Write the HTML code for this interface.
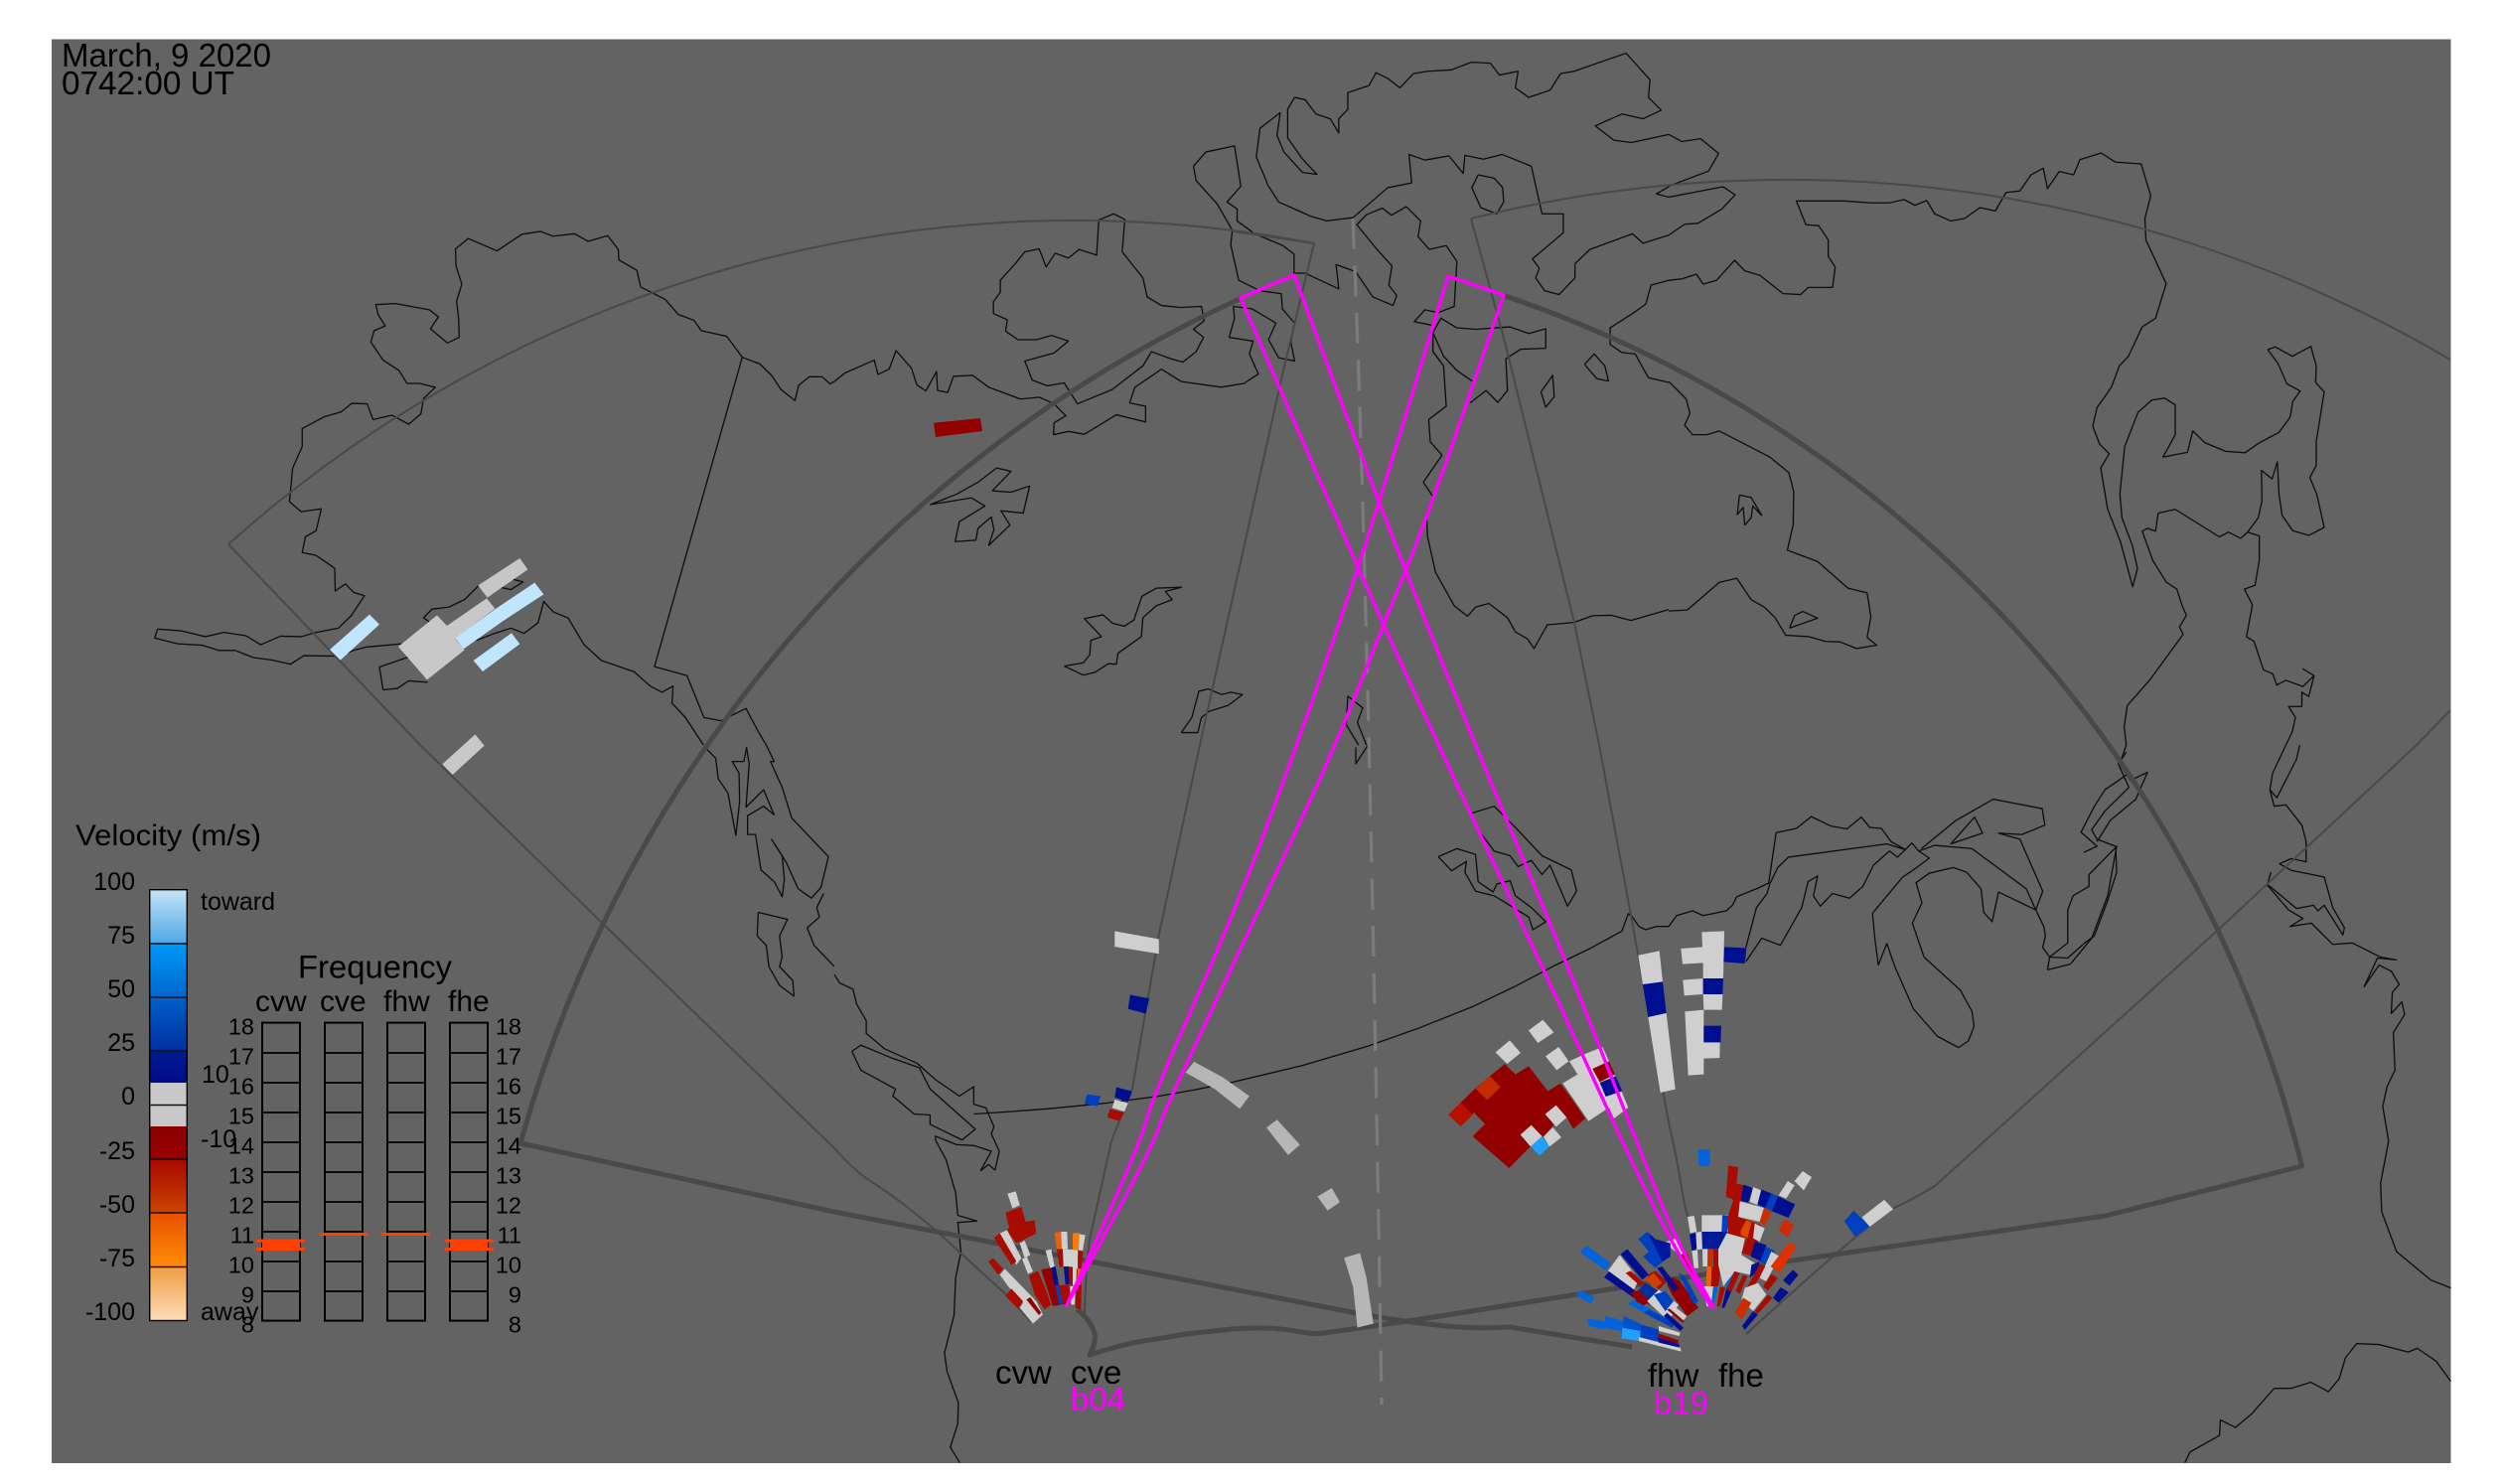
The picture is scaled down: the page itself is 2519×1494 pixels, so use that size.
<!DOCTYPE html>
<html><head><meta charset="utf-8"><title>March, 9 2020 0742:00 UT</title>
<style>
html,body{margin:0;padding:0;background:#fff}
svg{display:block}
text{font-family:"Liberation Sans",sans-serif;fill:#000}
.c polyline{fill:none;stroke:#0c0c0c;stroke-width:1.3;stroke-linejoin:round;vector-effect:non-scaling-stroke}
.t{fill:none;stroke:#494949;stroke-width:2;stroke-linejoin:round}
.k{fill:none;stroke:#494949;stroke-width:5;stroke-linejoin:round}
.g{fill:none;stroke:#ff00ff;stroke-width:3.4;stroke-linejoin:round}
.w{fill:#cfcfcf}.s{fill:#b6b6b6}.b{fill:#000f90}.m{fill:#0040c0}.l{fill:#0064dc}.h{fill:#20a0ff}.r{fill:#a80c00}.d{fill:#920000}.o{fill:#cc2c00}.e{fill:#e86010}.p{fill:#c0e6ff}
.f rect{fill:none;stroke:#000;stroke-width:2}
.n{font-size:25px;text-anchor:end}
.q{font-size:23.5px;text-anchor:end}
</style></head><body>
<svg xmlns="http://www.w3.org/2000/svg" width="2519" height="1494" viewBox="0 0 2519 1494">
<defs>
<linearGradient id="a1" x1="0" y1="0" x2="0" y2="1"><stop offset="0" stop-color="#c4e4f8"/><stop offset="1" stop-color="#4fa6e6"/></linearGradient>
<linearGradient id="a2" x1="0" y1="0" x2="0" y2="1"><stop offset="0" stop-color="#0098fa"/><stop offset="1" stop-color="#0066cc"/></linearGradient>
<linearGradient id="a3" x1="0" y1="0" x2="0" y2="1"><stop offset="0" stop-color="#0060c8"/><stop offset="1" stop-color="#0030a0"/></linearGradient>
<linearGradient id="a4" x1="0" y1="0" x2="0" y2="1"><stop offset="0" stop-color="#001c90"/><stop offset="1" stop-color="#000a88"/></linearGradient>
<linearGradient id="a5" x1="0" y1="0" x2="0" y2="1"><stop offset="0" stop-color="#8a0000"/><stop offset="1" stop-color="#990000"/></linearGradient>
<linearGradient id="a6" x1="0" y1="0" x2="0" y2="1"><stop offset="0" stop-color="#a80800"/><stop offset="1" stop-color="#cc4400"/></linearGradient>
<linearGradient id="a7" x1="0" y1="0" x2="0" y2="1"><stop offset="0" stop-color="#e85000"/><stop offset="1" stop-color="#ff8c08"/></linearGradient>
<linearGradient id="a8" x1="0" y1="0" x2="0" y2="1"><stop offset="0" stop-color="#f09c40"/><stop offset="1" stop-color="#fddcb8"/></linearGradient>
</defs>
<rect x="52" y="39.5" width="2415.5" height="1433.5" fill="#636363"/>

<!-- coast: top-left -->
<g class="c" transform="scale(.53571,.47831)">
<polyline points="296,1324 342,1328 386,1340 421,1331 462,1338 490,1357 527,1339 567,1340 590,1332 636,1322 660,1296 685,1254 665,1247 649,1229 630,1244 629,1196 594,1169 568,1163 574,1130 594,1117 604,1071 566,1077 544,1056 550,985 568,940 568,902 610,877 641,867 661,849 690,850 701,883 737,874 768,893 791,871 796,839 818,815 788,807 765,807 750,780 720,758 697,720 703,696 724,686 711,663 706,641 743,639 807,652 824,667 809,692 841,722 863,710 862,671 858,634 868,598 857,560 856,524 880,502 934,528 981,493 1016,487 1039,497 1080,492 1105,508 1142,496 1162,525 1163,547 1197,569 1204,604 1250,630 1275,662 1304,674 1318,696 1366,708 1395,752 1428,766 1450,790 1468,820 1494,843 1501,811 1521,793 1545,793 1560,808 1568,803"/>
<polyline points="296,1324 291,1343 334,1355 380,1358 411,1369 442,1369 476,1384 510,1389 546,1398 571,1380 640,1381 664,1369 688,1362 755,1355"/>
<polyline points="770,1382 713,1404 720,1452 747,1449 768,1433 804,1436"/>
<polyline points="808,1310 796,1300 812,1282 843,1278 873,1262 900,1232"/>
<polyline points="940,1236 960,1241 983,1225 960,1218"/>
<polyline points="895,1348 925,1335 960,1322 985,1333 1011,1311 1022,1266 1040,1288 1068,1301 1097,1356 1130,1390 1192,1414 1222,1444 1244,1457 1265,1444 1263,1480 1288,1510 1322,1568"/>
<polyline points="1322,1510 1355,1517 1402,1491 1425,1540 1440,1568"/>
<polyline points="1395,752 1230,1403 1291,1422 1323,1510"/>
</g>
<!-- coast: top-middle -->
<g class="c" transform="translate(840,0) scale(.53571,.47831)">
<polyline points="0,803 20,785 75,758 82,788 103,777 116,738 145,775 155,810 172,823 192,782 194,822 213,826 224,792 260,790 290,815 350,840 385,836 413,850 435,875 413,890 412,915 440,908 470,914 530,873 585,888 585,855 555,848 565,815 615,777 652,803 727,815 770,807 797,787 780,745 787,718 742,710 752,670 750,645 785,650 830,680 816,715 835,753 865,760 858,720 865,680 842,650 840,618 800,612 760,590 745,515 748,485 720,430 680,380 675,350 698,320 752,307 764,392 738,425 757,440 757,465 790,492 843,517 864,535 864,575 885,575 948,608 943,557 980,572 1012,625 1050,643 1057,622 1042,600 1048,560 1020,525 982,473 1000,452 1030,438 1047,453 1075,435 1102,465 1097,498 1118,525 1150,517 1170,550 1165,645 1135,658 1110,652 1090,677 1125,685 1125,740 1145,770 1150,855 1117,883 1120,930 1142,958 1107,1015 1125,1045 1113,1080 1115,1130 1130,1205 1165,1275 1190,1297 1205,1278 1230,1270 1265,1300 1280,1330 1303,1345 1315,1365 1340,1315 1390,1310 1425,1296 1460,1295 1497,1306 1568,1283"/>
<polyline points="525,450 497,463 493,537 460,525 440,543 415,533 398,562 385,524 358,530 340,555 312,590 312,615 299,635 299,660 325,673 322,697 345,715 380,715 408,706 440,718 413,743 358,760 372,800 400,812 432,806 457,850 522,820 580,770 596,740 632,755 655,762 680,740 694,710 675,693 695,675 690,645 650,647 615,643 588,625 580,585 541,530 546,462 525,450"/>
<polyline points="865,205 885,210 905,240 932,250 948,280 948,250 965,230 965,195 1005,180 1018,153 1040,165 1063,185 1088,155 1115,150 1160,147 1197,131 1233,133 1250,158 1285,150 1280,185 1305,205 1345,190 1365,155 1390,150 1488,112 1533,168 1530,205 1554,232 1520,250 1480,240 1430,265 1465,295 1498,300 1568,283"/>
<polyline points="865,205 852,230 852,290 880,335 907,367 880,363 845,320 832,285 838,237 800,270 793,330 815,390 835,425 895,455 925,465 975,458 1040,395 1085,385 1080,325 1110,337 1155,328 1182,365 1185,327 1220,335 1255,325 1310,350 1330,450 1370,450 1370,490 1312,545 1325,565 1318,585 1335,612 1362,620 1392,585 1392,555 1420,525 1500,492 1520,512 1568,495"/>
<polyline points="1210,368 1198,395 1215,437 1245,450 1258,425 1256,395 1240,375 1210,368"/>
<polyline points="1568,590 1535,600 1525,640 1500,660 1458,690 1458,725 1480,742 1505,745 1530,795 1568,805"/>
<polyline points="1410,767 1428,745 1448,770 1455,802 1433,797 1410,767"/>
<polyline points="1328,825 1350,790 1353,835 1337,857 1328,825"/>
<polyline points="1200,803 1170,780 1145,750 1125,700 1140,670 1170,690 1205,693 1270,688 1305,702 1337,692 1337,733 1290,735 1262,755 1265,822 1247,847 1225,822 1195,848"/>
<polyline points="1568,393 1545,408 1568,415"/>
<polyline points="180,1062 230,1040 270,1015 305,985 332,992 297,1033 332,1036 367,1023 355,1080 313,1075 330,1105 290,1148 300,1115 295,1088 270,1112 266,1137 227,1140 235,1098 283,1065 258,1048 180,1062"/>
<polyline points="432,1402 468,1395 480,1378 482,1348 502,1340 470,1302 505,1294 523,1312 545,1318 563,1305 578,1255 605,1238 652,1236 622,1245 635,1262 605,1275 580,1300 577,1340 533,1375 530,1398 515,1397 490,1415 468,1421 432,1402"/>
<polyline points="652,1542 672,1510 685,1455 703,1450 728,1462 745,1457 767,1462 740,1485 705,1497 690,1510 683,1542 652,1542"/>
<polyline points="965,1465 993,1490 983,1520 1000,1568"/>
<polyline points="965,1465 962,1525 985,1568"/>
</g>
<!-- coast: top-right -->
<g class="c" transform="translate(1680,0) scale(.53571,.47831)">
<polyline points="0,283 25,298 60,292 94,323 75,360 0,392"/>
<polyline points="0,415 102,393 125,410 100,440 55,470 30,472 0,495"/>
<polyline points="0,590 25,587 52,577 65,598 90,590 124,548 143,570 172,580 215,618 248,620 262,605 308,605 313,562 300,540 300,505 282,475 258,473 240,423 330,423 380,427 415,427 442,420 463,432 485,422 500,450 530,465 556,460 585,437 614,444 634,405 660,402 681,368 704,354 712,397 734,361 761,368 773,336 813,322 839,341 888,345 906,412 895,460 897,505 935,597 915,670 890,688 864,750 847,770 832,815 805,858 797,897 810,935 828,955 812,985 825,1072 849,1140 872,1235 881,1197 872,1150 852,1090 848,1040 857,940 882,868 908,842 932,838 952,852 952,915 929,962 975,952 985,907 1008,932 1047,950 1083,953 1110,932 1147,910 1168,878 1173,845 1187,823 1162,808 1145,765 1126,736 1140,730 1172,750 1207,729 1217,770 1216,805 1232,825 1217,930 1217,980 1205,1005 1218,1040 1232,1110 1203,1127 1173,1117 1153,1085 1147,1040 1144,972 1134,1008 1114,990 1115,1055 1108,1090 1088,1120 1110,1128 1110,1180 1102,1232 1082,1240 1097,1273 1086,1340 1100,1350 1118,1410 1135,1418 1143,1442 1160,1432 1192,1445 1213,1422 1192,1408 1213,1422 1203,1466 1190,1457 1190,1487 1165,1487 1178,1510 1172,1540 1160,1568"/>
<polyline points="1088,1120 1075,1133 1052,1120 1035,1130 952,1072 920,1080 915,1118 900,1112 890,1118 910,1180 935,1225 955,1240 965,1275 973,1295 960,1320 967,1335 905,1430 862,1485 856,1530 860,1568"/>
<polyline points="0,803 20,825 33,840 40,870 30,895 45,915 72,915 95,907 190,962 226,995 235,1035 234,1105 223,1158 280,1182 337,1238 373,1248 380,1298 373,1342 391,1358 353,1365 322,1351 295,1350 263,1340 220,1337 200,1300 180,1278 155,1262 128,1217 95,1226 35,1284 0,1286"/>
<polyline points="133,1042 155,1047 175,1085 158,1065 155,1090 143,1105 140,1068 129,1083 133,1042"/>
<polyline points="227,1322 237,1295 252,1287 280,1301 227,1322"/>
</g>
<!-- coast: bottom-left -->
<g class="c" transform="translate(0,750) scale(.53571,.47450)">
<polyline points="1440,0 1455,35 1448,35 1470,90 1488,155 1557,237 1543,302 1525,325 1500,305 1478,250 1450,200 1470,235 1474,285 1470,322 1455,290 1430,265 1420,190 1405,190 1405,150 1435,130 1455,148 1435,95 1402,132 1408,40 1403,5 1398,35 1376,35 1389,60 1390,120 1383,192 1368,102 1350,72 1345,28 1325,5"/>
<polyline points="1425,355 1480,370 1465,405 1470,450 1465,470 1490,500 1492,533 1465,510 1445,470 1440,425 1423,405 1425,355"/>
<polyline points="1548,315 1535,345 1540,365 1517,388 1530,425 1568,470"/>
</g>
<!-- coast: bottom-middle -->
<g class="c" transform="translate(840,750) scale(.53571,.47450)">
<polyline points="0,487 10,505 35,518 42,550 60,585 60,612 95,645 155,675 190,710 235,745 262,725 262,762 285,770 300,810 295,825 310,862 302,902 290,890 275,903 295,862 263,850 230,848 190,830 190,838 210,880 228,950 232,998 268,1010 232,1013 238,1075 228,1130 225,1210 207,1290 212,1330 233,1395 232,1440 218,1490 236,1523"/>
<polyline points="33,650 50,637 110,665 160,685 180,730 265,815 240,838 180,805 180,785 150,783 110,745 115,730 50,690 33,650"/>
<polyline points="262,783 330,778 400,772 510,760 610,745 680,731 750,715 880,680 1000,640 1100,600 1200,555 1280,512 1350,470 1420,432 1480,395 1492,358 1500,365 1512,385 1525,392 1545,385 1568,385"/>
<polyline points="1197,145 1240,130 1280,175 1330,235 1385,265 1395,310 1378,342 1345,255 1330,275 1310,245 1285,258 1270,235 1240,225 1210,180 1197,145"/>
<polyline points="1135,237 1170,220 1205,232 1210,290 1238,312 1245,295 1270,288 1280,320 1310,345 1337,375 1313,392 1305,365 1240,320 1205,310 1185,270 1188,247 1160,267 1135,237"/>
<polyline points="1003,0 980,40 980,5"/>
</g>
<!-- coast: bottom-right -->
<g class="c" transform="translate(1680,750) scale(.53571,.47450)">
<polyline points="0,385 15,362 45,352 65,362 108,352 120,340 128,322 165,305 188,293 202,186 240,177 268,152 305,172 335,178 362,153 378,175 400,177 418,205 445,222"/>
<polyline points="445,222 410,210 225,238 205,260 190,295 185,315 165,345 145,430"/>
<polyline points="145,460 175,410 210,425 250,345 262,290 280,278 272,320 285,342 308,315 340,325 365,300 385,255 415,225 430,238 445,222 457,208 470,225 490,240 460,265 440,280 383,357 388,415 394,467 410,421 425,470 460,560 505,618 545,642 563,628 574,597 570,565 548,520 480,450 458,378 476,335 465,292 490,272 535,260 560,270 587,305 592,355 608,375 620,312 690,350 705,385 708,405 703,430 716,450 750,452 782,420 800,405 825,330 842,270 840,215 805,200 795,180 820,140 865,90 845,40 860,15"/>
<polyline points="470,225 500,213 570,220 672,305 690,350 703,310 660,200 620,187 664,190 707,170 702,135 610,115 540,160 475,220"/>
<polyline points="530,210 575,153 590,187 530,210"/>
<polyline points="712,477 755,465 795,410 825,320 842,215 790,275 790,300 760,320 750,350 750,420 716,450 712,477"/>
<polyline points="780,228 805,215 775,185 800,130 820,95 865,60"/>
<polyline points="860,0 848,40 868,75 900,58 878,115 830,160 805,205"/>
<polyline points="1160,0 1135,60 1130,95 1143,112 1180,30 1186,0"/>
<polyline points="1130,95 1138,130 1160,127 1190,170 1198,205 1198,248 1170,241 1148,252 1170,266 1232,280 1248,345 1270,388 1267,403 1232,340 1220,352 1212,340 1180,347 1130,300 1125,297 1132,270"/>
<polyline points="1125,297 1165,350 1192,368 1168,385 1208,378 1248,423 1285,420 1338,450 1368,456 1332,452 1307,513 1335,467 1358,480 1373,508 1360,525 1358,570 1378,545 1383,572 1362,610 1365,690 1350,725 1342,767 1353,840 1338,930 1340,990 1368,1075 1432,1135 1470,1152"/>
<polyline points="970,1523 980,1500 1035,1465 1037,1432 1065,1448 1095,1420 1138,1365 1170,1365 1207,1352 1240,1372 1260,1345 1272,1300 1293,1270 1335,1272 1390,1288 1407,1280 1442,1307 1470,1350"/>
</g>

<!-- fields of view -->
<path class="t" d="M1092 1322 Q1093 1280 1097 1248 L1119 1149 Q1130 1120 1140 1096 L1167 940 L1208 750 L1292 373 L1323 245 L1242 233"/>
<path class="t" d="M230 548 A1275 1275 0 0 1 1323 245"/>
<path class="t" d="M230 548 L423 750 L605 928 L840 1156 Q860 1178 872 1186 Q890 1198 904 1208 Q925 1224 947 1243 L1017 1307 L1038 1331"/>
<path class="t" d="M1700 1227 L1696 1213 L1688 1167 L1680 1130 L1641 916 L1610 750 L1585 627 L1515 344 L1481 220"/>
<path class="t" d="M1481 220 A1320 1320 0 0 1 2467 362"/>
<path class="t" d="M2467 715 L2433 750 L2229 940 L1948 1194 Q1925 1208 1905 1217 Q1880 1232 1758 1343"/>
<path class="k" d="M1250 300 A1327 1327 0 0 0 524 1151 L840 1220 L1108 1272 L1376 1324 Q1416 1331 1456 1335 Q1490 1338 1520 1336 L1643 1356"/>
<path class="k" d="M1514 297.5 A1236 1236 0 0 1 2317.5 1174 L2120 1224 L1798 1270 L1633 1296 L1424 1329 L1340 1341 Q1325 1344 1310 1341 Q1280 1335 1240 1338 L1194 1343 L1140 1352 Q1115 1358 1097 1364 Q1104 1350 1102 1343 Q1098 1328 1084 1318"/>
<path d="M1362 220 Q1378 600 1391 1414" fill="none" stroke="#7c7c7c" stroke-width="3.2" stroke-dasharray="31 16.5"/>

<!-- scatter: Alaska -->
<g transform="translate(320,540) scale(.33333)">
<polygon class="w" points="484,148 610,66 634,100 512,185" style="fill:#c6c6c6"/>
<polygon class="p" points="36,342 156,236 186,266 68,374"/>
<polygon class="w" points="243,333 360,238 390,270 510,187 535,218 415,310 443,343 330,433" style="fill:#c8c8c8"/>
<polygon class="p" points="415,308 535,220 655,140 682,175 560,255 440,340"/>
<polygon class="p" points="470,375 585,292 610,325 498,408"/>
<polygon class="w" points="376,688 475,598 503,632 407,720" style="fill:#c8c8c8"/>
</g>
<polygon class="d" points="940,425.7 987,421 989,434 942,440"/>

<!-- scatter: centre -->
<g transform="translate(840,750) scale(.53571,.47450)">
<polygon class="w" points="527,395 610,412 610,443 527,428"/>
<polygon class="b" points="556,530 592,538 585,570 552,560"/>
<polygon class="m" points="475,741 500,745 495,766 470,762"/>
<polygon class="b" points="530,726 560,735 552,757 527,748"/>
<polygon class="w" points="527,752 552,760 545,778 522,770"/>
<polygon class="r" points="518,772 545,780 535,798 513,790"/>
<polygon class="s" points="660,695 676,672 730,705 780,745 762,772 715,730"/>
<polygon class="s" points="812,812 832,795 875,848 853,870"/>
<polygon class="s" points="908,958 935,940 950,970 927,988"/>
<polygon class="s" points="958,1088 988,1078 1000,1130 1013,1228 983,1236 975,1150"/>
</g>
<!-- cluster -->
<g transform="translate(1440,1000) scale(.33333)">
<polygon class="d" points="55,367 92,330 135,288 225,213 257,245 297,220 355,295 393,272 428,320 468,378 432,410 412,375 400,365 345,430 300,465 238,528 128,432 165,395 132,360 92,402"/>
<polygon points="55,367 92,330 128,367 92,402" fill="#b81000"/>
<polygon points="137,288 180,250 212,283 172,322" fill="#c42c00"/>
<polygon class="w" points="197,178 240,142 273,180 232,213"/>
<polygon class="w" points="297,112 340,80 373,118 325,150"/>
<polygon class="w" points="348,190 388,162 418,205 382,232"/>
<polygon class="w" points="347,365 380,338 412,375 380,403"/>
<polygon class="w" points="272,427 305,398 338,432 303,463"/>
<polygon class="w" points="342,433 370,405 396,435 360,463"/>
<polygon class="h" points="303,463 338,432 360,463 330,490"/>
<polygon class="w" points="420,205 468,183 520,162 540,205 598,345 555,378 540,345 478,386 400,272 445,245"/>
<polygon class="d" points="490,228 540,205 558,245 512,268"/>
<polygon class="b" points="512,270 560,250 580,295 530,312"/>
</g>
<!-- columns -->
<g transform="translate(1630,920) scale(.33333)">
<polygon class="w" points="58,125 122,112 132,205 72,215"/>
<polygon class="b" points="72,213 132,205 143,300 88,312"/>
<polygon class="w" points="88,312 143,300 170,530 125,540"/>
<polygon class="w" points="187,105 252,100 250,55 318,52 315,195 254,195 254,148 192,152"/>
<polygon class="b" points="318,100 385,103 380,150 316,145"/>
<polygon class="w" points="193,200 254,195 254,243 197,247"/>
<polygon class="b" points="254,195 315,195 313,243 254,243"/>
<polygon class="w" points="254,243 313,243 311,290 256,290"/>
<polygon class="w" points="199,295 256,290 256,388 305,388 304,435 256,437 256,485 209,488"/>
<polygon class="b" points="256,338 309,338 307,388 256,388"/>
</g>
<g transform="translate(1680,750) scale(.53571,.47450)">
<polygon class="m" points="330,1010 348,988 378,1022 350,1043"/>
<polygon class="w" points="363,1002 405,965 422,985 378,1022"/>
<polygon class="l" points="55,858 78,858 76,893 57,893"/>
</g>

<!-- cv fan -->
<g transform="translate(960,1170) scale(.33333)">
<polygon class="w" points="163,95 188,88 200,130 178,140"/>
<polygon class="r" points="157,152 205,135 218,180 245,175 250,215 190,245 160,205 168,198"/>
<polygon class="w" points="140,215 162,205 205,290 190,310"/>
<polygon class="r" points="122,228 140,215 190,300 175,310"/>
<polygon class="w" points="200,245 215,237 232,280 215,290"/>
<polygon class="w" points="207,292 222,287 240,330 225,338"/>
<polygon class="r" points="105,300 120,290 150,322 135,340"/>
<polygon class="w" points="140,340 155,322 250,420 270,460 240,488 200,440 210,425 165,375"/>
<polygon class="r" points="157,405 175,382 210,420 195,442"/>
<polygon class="d" points="220,415 232,408 265,455 258,462"/>
<polygon class="r" points="228,342 255,328 275,375 295,430 275,445 245,400"/>
<polygon class="d" points="265,325 295,318 315,375 325,430 300,435"/>
<polygon class="m" points="295,318 308,315 330,430 320,432"/>
<polygon class="b" points="295,318 308,315 318,370 305,372"/>
<polygon class="r" points="318,372 350,370 352,430 330,430"/>
<polygon class="w" points="278,267 295,263 305,315 292,320"/>
<polygon class="e" points="305,213 325,210 327,262 312,265"/>
<polygon class="w" points="325,210 343,210 345,262 327,262"/>
<polygon class="r" points="312,263 330,262 332,315 320,317"/>
<polygon class="w" points="330,262 375,265 375,320 332,315"/>
<polygon points="360,215 380,213 378,265 360,265" fill="#ff7a00"/>
<polygon class="w" points="380,217 398,220 390,268 378,265"/>
<polygon class="r" points="378,267 392,270 385,325 375,320"/>
<polygon class="b" points="333,315 348,315 350,368 338,370"/>
<polygon class="r" points="348,315 360,317 360,372 350,370"/>
<polygon class="w" points="360,318 375,320 372,375 360,372"/>
<polygon class="r" points="372,322 388,325 385,445 368,440"/>
<polygon class="e" points="375,320 390,325 385,370 372,370"/>
<polygon class="w" points="352,375 368,375 366,430 355,430"/>
</g>

<!-- fh fan -->
<g transform="translate(1570,1140) scale(.33333)">
<polygon class="w" points="387,255 407,252 415,300 395,305"/>
<polygon class="b" points="393,308 412,303 415,352 400,357"/>
<polygon class="w" points="412,302 430,300 432,352 415,355"/>
<polygon class="w" points="400,358 417,355 420,410 407,410"/>
<polygon class="w" points="430,250 515,250 510,300 430,300"/>
<polygon class="m" points="492,250 516,252 508,300 490,300"/>
<polygon class="b" points="430,300 508,300 495,352 432,352" style="fill:#001a99"/>
<polygon class="w" points="432,352 448,352 447,405 433,405"/>
<polygon class="o" points="448,352 465,352 462,405 448,405"/>
<polygon class="r" points="465,352 480,352 480,405 465,405"/>
<polygon class="e" points="445,405 460,405 458,465 443,465"/>
<polygon class="r" points="460,405 488,405 480,465 458,465"/>
<polygon class="w" points="433,465 465,465 458,525 445,525"/>
<polygon class="l" points="465,465 478,467 465,525 458,525"/>
<polygon class="r" points="485,467 502,470 485,525 476,525"/>
<polygon class="b" points="505,470 522,475 498,530 490,530"/>
<polygon class="l" points="515,415 530,418 510,470 500,470"/>
<polygon class="w" points="505,305 560,320 550,370 590,395 575,430 530,420 495,465 480,400 480,352"/>
<polygon class="r" points="510,250 525,205 550,210 540,255 610,280 590,310 600,330 590,375 550,365 565,320 510,305"/>
<polygon class="r" points="510,100 540,105 535,155 558,160 548,210 525,205 520,200 503,195"/>
<polygon class="e" points="548,295 565,265 580,272 568,320 548,310" style="fill:#e04800"/>
<polygon class="b" points="556,158 585,168 570,212 548,207"/>
<polygon class="w" points="585,165 610,175 600,220 575,210"/>
<polygon class="b" points="610,172 640,185 622,228 598,218"/>
<polygon class="m" points="640,183 660,193 642,238 622,228"/>
<polygon class="b" points="660,193 712,217 692,258 642,238"/>
<polygon class="w" points="545,208 618,228 605,270 540,255"/>
<polygon class="o" points="618,228 642,240 620,282 605,270"/>
<polygon class="w" points="590,275 620,290 605,330 585,320"/>
<polygon class="w" points="662,190 690,147 710,160 685,200"/>
<polygon class="w" points="710,147 735,117 762,135 738,175"/>
<polygon class="o" points="680,262 708,280 690,317 662,295"/>
<polygon class="b" points="590,330 625,340 610,390 578,375"/>
<polygon class="m" points="625,345 650,358 625,400 605,390"/>
<polygon class="w" points="640,360 665,375 625,450 605,440"/>
<polygon class="o" points="695,332 716,345 665,425 638,405" style="fill:#e03000"/>
<polygon class="b" points="580,400 605,390 598,420 575,440"/>
<polygon class="r" points="605,398 622,405 570,498 555,490"/>
<polygon class="w" points="560,470 600,455 625,490 585,540 550,505"/>
<polygon class="r" points="528,420 545,425 520,482 505,475"/>
<polygon class="r" points="555,430 568,435 545,487 532,478"/>
<polygon class="r" points="640,428 660,440 630,478 615,465"/>
<polygon class="b" points="705,415 722,430 695,463 675,447"/>
<polygon class="b" points="668,468 693,483 662,515 645,500"/>
<polygon class="r" points="630,490 643,500 600,548 590,540"/>
<polygon class="o" points="555,500 580,515 550,565 530,545"/>
<polygon class="b" points="585,540 600,550 560,597 552,585"/>
<polygon class="w" points="318,332 360,318 395,395 385,410 355,365"/>
<polygon class="r" points="360,370 385,365 420,440 405,450"/>
<polygon class="d" points="340,437 365,450 420,530 385,555 340,490 325,460"/>
<polygon class="m" points="360,425 380,435 420,510 405,520"/>
<polygon class="m" points="238,322 265,300 300,340 335,335 335,375 300,400 290,410 253,375 270,360"/>
<polygon class="b" points="268,303 290,322 335,335 335,375 310,390" style="fill:#0018a0"/>
<polygon class="l" points="62,362 82,342 155,395 140,416"/>
<polygon class="w" points="147,418 182,370 240,445 225,475"/>
<polygon class="b" points="185,368 205,352 270,430 250,445"/>
<polygon class="b" points="135,438 150,420 225,475 240,490 225,500"/>
<polygon class="r" points="200,425 215,418 260,458 245,465"/>
<polygon class="r" points="265,430 290,418 325,450 300,475"/>
<polygon class="o" points="258,445 285,425 310,455 290,470" style="fill:#d04000"/>
<polygon class="b" points="295,410 310,405 360,470 345,480"/>
<polygon class="m" points="225,490 260,455 300,480 270,520" style="fill:#0030a0"/>
<polygon class="d" points="215,483 240,478 275,508 245,530"/>
<polygon class="l" points="50,490 65,478 105,497 95,518"/>
<polygon class="w" points="265,510 300,475 360,520 330,570"/>
<polygon class="m" points="285,490 320,480 345,510 320,540"/>
<polygon class="l" points="208,518 222,505 312,555 300,570"/>
<polygon class="m" points="255,545 268,535 350,575 340,590"/>
<polygon class="d" points="325,535 340,530 380,565 372,575"/>
<polygon class="b" points="315,555 325,545 375,590 365,600"/>
<polygon class="l" points="85,562 140,572 135,595 88,585"/>
<polygon class="l" points="140,555 195,570 190,600 135,590"/>
<polygon class="m" points="195,555 245,578 240,625 185,620" style="fill:#0050c8"/>
<polygon class="m" points="245,580 300,595 300,640 245,625"/>
<polygon class="h" points="190,590 245,600 240,630 187,622"/>
<polygon class="w" points="300,585 365,605 362,615 300,600"/>
<polygon class="w" points="240,618 365,650 368,662 240,630"/>
<polygon class="d" points="300,608 360,628 358,640 298,620"/>
<polygon class="b" points="298,620 362,640 362,650 300,635"/>
<polygon class="w" points="340,520 385,555 375,568 330,530"/>
</g>

<!-- magenta beams -->
<path class="g" d="M1514 297 L1475.5 409 Q1437 521 1414.5 576 Q1392 631 1368.5 690.5 Q1345 750 1312 821 Q1279 892 1225.5 1005 Q1172 1118 1166.5 1135.5 Q1161 1153 1117.5 1233.5 L1074 1314 L1111 1232.5 Q1148 1151 1154.5 1127 Q1161 1103 1201.5 1012 Q1242 921 1274 835.5 Q1306 750 1335.5 664.5 Q1365 579 1381 528.5 Q1397 478 1427.5 378 L1458 278 Z"/>
<path class="g" d="M1249 300 L1308.5 437 Q1368 574 1408 662 Q1448 750 1501.5 864 Q1555 978 1594 1063.5 Q1633 1149 1657.5 1199.5 Q1682 1250 1702.5 1283 L1723 1316 L1725 1316 L1705 1279.5 Q1685 1243 1667 1198 Q1649 1153 1613 1060.5 Q1577 968 1531 859 Q1485 750 1437 629.5 Q1389 509 1346 393 L1303 277 Z"/>

<!-- title -->
<text x="62" y="67" font-size="33" textLength="211" lengthAdjust="spacingAndGlyphs">March, 9 2020</text>
<text x="62" y="95" font-size="33" textLength="174" lengthAdjust="spacingAndGlyphs">0742:00 UT</text>

<!-- colour bar -->
<rect x="151" y="896" width="37" height="54" fill="url(#a1)"/>
<rect x="151" y="950" width="37" height="54" fill="url(#a2)"/>
<rect x="151" y="1004" width="37" height="54" fill="url(#a3)"/>
<rect x="151" y="1058" width="37" height="32" fill="url(#a4)"/>
<rect x="151" y="1090" width="37" height="44" fill="#c8c8c8"/>
<rect x="151" y="1134" width="37" height="33" fill="url(#a5)"/>
<rect x="151" y="1167" width="37" height="54" fill="url(#a6)"/>
<rect x="151" y="1221" width="37" height="54" fill="url(#a7)"/>
<rect x="151" y="1275" width="37" height="54.5" fill="url(#a8)"/>
<rect x="150.7" y="895.7" width="37.6" height="433.8" fill="none" stroke="#000" stroke-width="1.4"/>
<g stroke="#111" stroke-width="1.4"><line x1="151" x2="188" y1="950" y2="950"/><line x1="151" x2="188" y1="1004" y2="1004"/><line x1="151" x2="188" y1="1058" y2="1058"/><line x1="151" x2="188" y1="1112.5" y2="1112.5"/><line x1="151" x2="188" y1="1167" y2="1167"/><line x1="151" x2="188" y1="1221" y2="1221"/><line x1="151" x2="188" y1="1275.5" y2="1275.5"/></g>
<text x="76" y="851" font-size="30" textLength="187" lengthAdjust="spacingAndGlyphs">Velocity (m/s)</text>
<text class="n" x="136" y="896">100</text><text class="n" x="136" y="950">75</text><text class="n" x="136" y="1004">50</text><text class="n" x="136" y="1058">25</text><text class="n" x="136" y="1112">0</text><text class="n" x="136" y="1167">-25</text><text class="n" x="136" y="1221">-50</text><text class="n" x="136" y="1275">-75</text><text class="n" x="136" y="1329">-100</text>
<text x="202" y="916" font-size="25">toward</text>
<text x="202" y="1329" font-size="25">away</text>
<text x="203" y="1090" font-size="25">10</text>
<text x="202" y="1155" font-size="25">-10</text>

<!-- frequency panel -->
<text x="300" y="984.5" font-size="32" textLength="155" lengthAdjust="spacingAndGlyphs">Frequency</text>
<text x="257" y="1018" font-size="30">cvw</text><text x="322" y="1018" font-size="30">cve</text><text x="386" y="1018" font-size="30">fhw</text><text x="451" y="1018" font-size="30">fhe</text>
<g class="f">
<rect x="264" y="1029.6" width="38" height="300"/><rect x="327" y="1029.6" width="38" height="300"/><rect x="390" y="1029.6" width="38" height="300"/><rect x="453" y="1029.6" width="38" height="300"/>
<path d="M264 1060H302M264 1090H302M264 1120H302M264 1150H302M264 1180H302M264 1210H302M264 1240H302M264 1270H302M264 1300H302M327 1060H365M327 1090H365M327 1120H365M327 1150H365M327 1180H365M327 1210H365M327 1240H365M327 1270H365M327 1300H365M390 1060H428M390 1090H428M390 1120H428M390 1150H428M390 1180H428M390 1210H428M390 1240H428M390 1270H428M390 1300H428M453 1060H491M453 1090H491M453 1120H491M453 1150H491M453 1180H491M453 1210H491M453 1240H491M453 1270H491M453 1300H491" stroke="#000" stroke-width="1.7" fill="none"/>
</g>
<g fill="#ff4000">
<rect x="264" y="1247.6" width="38" height="11.4"/><rect x="258" y="1247.6" width="49" height="3"/><rect x="258" y="1256" width="49" height="3"/>
<rect x="453" y="1247.6" width="38" height="11.4"/><rect x="447.7" y="1247.6" width="49" height="3"/><rect x="447.7" y="1256" width="49" height="3"/>
<rect x="321.7" y="1241" width="49" height="3"/><rect x="384" y="1241" width="49" height="3"/>
</g>
<text class="q" x="256" y="1041.4">18</text><text class="q" x="256" y="1071.4">17</text><text class="q" x="256" y="1101.4">16</text><text class="q" x="256" y="1131.4">15</text><text class="q" x="256" y="1161.4">14</text><text class="q" x="256" y="1191.4">13</text><text class="q" x="256" y="1221.4">12</text><text class="q" x="256" y="1251.4">11</text><text class="q" x="256" y="1281.4">10</text><text class="q" x="256" y="1311.4">9</text><text class="q" x="256" y="1341.4">8</text>
<text class="q" x="525" y="1041.4">18</text><text class="q" x="525" y="1071.4">17</text><text class="q" x="525" y="1101.4">16</text><text class="q" x="525" y="1131.4">15</text><text class="q" x="525" y="1161.4">14</text><text class="q" x="525" y="1191.4">13</text><text class="q" x="525" y="1221.4">12</text><text class="q" x="525" y="1251.4">11</text><text class="q" x="525" y="1281.4">10</text><text class="q" x="525" y="1311.4">9</text><text class="q" x="525" y="1341.4">8</text>

<!-- radar labels -->
<text x="1002" y="1393" font-size="33">cvw</text>
<text x="1078" y="1393" font-size="33">cve</text>
<text x="1078" y="1420" font-size="33" style="fill:#ff00ff">b04</text>
<text x="1659" y="1396" font-size="33">fhw</text>
<text x="1730" y="1396" font-size="33">fhe</text>
<text x="1665" y="1424" font-size="33" style="fill:#ff00ff">b19</text>
</svg>
</body></html>
